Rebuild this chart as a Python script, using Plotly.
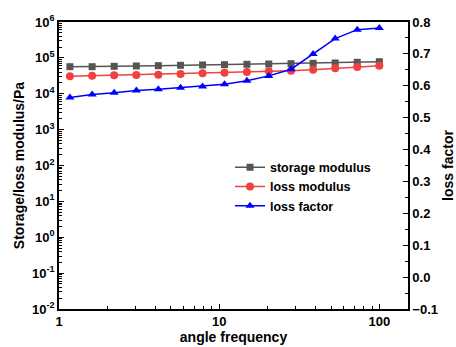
import plotly.graph_objects as go
import numpy as np

freq = [1.17, 1.61, 2.21, 3.04, 4.17, 5.74, 7.88, 10.8, 14.9, 20.4, 28.1, 38.6, 53.0, 72.8, 100.0]
storage = [5.68e4, 5.68e4, 5.82e4, 5.94e4, 6.06e4, 6.21e4, 6.33e4, 6.46e4, 6.62e4, 6.75e4, 6.89e4, 7.06e4, 7.2e4, 7.53e4, 7.82e4]
loss_mod = [3.06e4, 3.18e4, 3.27e4, 3.33e4, 3.40e4, 3.55e4, 3.72e4, 3.86e4, 4.04e4, 4.22e4, 4.39e4, 4.68e4, 5.12e4, 5.57e4, 6.06e4]
loss_fac = [0.563, 0.573, 0.578, 0.585, 0.589, 0.594, 0.598, 0.605, 0.616, 0.631, 0.652, 0.700, 0.748, 0.776, 0.781]

y_tickvals = [1e-2, 1e-1, 1, 10, 100, 1e3, 1e4, 1e5, 1e6]
y_ticktext = ["10<sup>-2</sup>", "10<sup>-1</sup>", "10<sup>0</sup>", "10<sup>1</sup>", "10<sup>2</sup>",
              "10<sup>3</sup>", "10<sup>4</sup>", "10<sup>5</sup>", "10<sup>6</sup>"]
x_tickvals = [1, 10, 100]
x_ticktext = ["1", "10", "100"]

x_minor = [m * d for d in [1, 10, 100] for m in range(2, 10)]
y_minor = [m * 10.0 ** e for e in range(-2, 6) for m in range(2, 10)]

FONT = "Arial, Liberation Sans, sans-serif"

fig = go.Figure()
fig.add_trace(go.Scatter(x=freq, y=storage, name="storage modulus", mode="lines+markers",
                         line=dict(color="#555555", width=1.5),
                         marker=dict(symbol="square", size=7, color="#555555")))
fig.add_trace(go.Scatter(x=freq, y=loss_mod, name="loss modulus", mode="lines+markers",
                         line=dict(color="#f04040", width=1.5),
                         marker=dict(symbol="circle", size=8, color="#f04040")))
fig.add_trace(go.Scatter(x=freq, y=loss_fac, name="loss factor", mode="lines+markers", yaxis="y2",
                         line=dict(color="#0000ff", width=1.5),
                         marker=dict(symbol="triangle-up", size=8, color="#0000ff")))

axis_common = dict(showline=True, linecolor="black", linewidth=1.5, ticks="inside",
                   tickcolor="black", ticklen=5, showgrid=False, zeroline=False,
                   automargin=False,
                   tickfont=dict(family=FONT, size=13, color="black", weight="bold"))

fig.update_layout(
    width=456, height=347,
    margin=dict(l=59, r=48, t=22, b=38),
    plot_bgcolor="white", paper_bgcolor="white",
    showlegend=True,
    legend=dict(x=0.49, y=0.545, xanchor="left", yanchor="top", bgcolor="rgba(0,0,0,0)",
                font=dict(family=FONT, size=12.5, color="black", weight="bold"),
                itemwidth=30, tracegroupgap=0),
    xaxis=dict(type="log", range=[0, np.log10(151)], tickvals=x_tickvals, ticktext=x_ticktext,
               mirror=True,
               minor=dict(ticks="inside", ticklen=3, tickcolor="black", showgrid=False,
                          tickvals=x_minor),
               title=dict(text="angle frequency", standoff=2,
                          font=dict(family=FONT, size=14, color="black", weight="bold")),
               **axis_common),
    yaxis=dict(type="log", range=[-2, 6], tickvals=y_tickvals, ticktext=y_ticktext,
               minor=dict(ticks="inside", ticklen=3, tickcolor="black", showgrid=False,
                          tickvals=y_minor),
               title=dict(text="Storage/loss modulus/Pa", standoff=4,
                          font=dict(family=FONT, size=14, color="black", weight="bold")),
               **axis_common),
    yaxis2=dict(overlaying="y", side="right", range=[-0.1, 0.8], dtick=0.1, tick0=0,
                tickformat=".1f",
                minor=dict(ticks="inside", ticklen=3, tickcolor="black", dtick=0.05),
                title=dict(text="loss factor", standoff=8,
                           font=dict(family=FONT, size=14, color="black", weight="bold")),
                **axis_common),
)

fig.write_html("out.html")
